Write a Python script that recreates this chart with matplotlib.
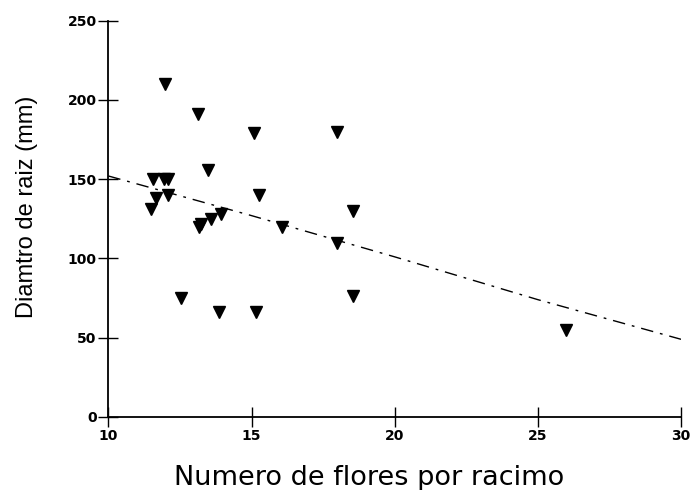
import matplotlib
matplotlib.use("Agg")
import matplotlib.pyplot as plt

# Observed plants: flowers per raceme vs. root diameter (mm)
flores = [11.98, 13.14, 15.09, 18.0, 13.49, 11.55, 11.95, 12.1, 11.65, 12.1,
          11.5, 13.15, 13.25, 13.6, 13.95, 15.25, 16.05, 18.0, 18.55, 12.55,
          13.85, 15.15, 18.55, 26.0]
diametro = [210, 191, 179, 180, 156, 150, 150, 150, 138, 140,
            131, 120, 122, 125, 128, 140, 120, 110, 130, 75,
            66, 66, 76, 55]

# Fitted trend curve
trend_x = [10, 15, 20, 25, 30]
trend_y = [152, 127, 101, 74, 49]

x_ticks = [10, 15, 20, 25, 30]
y_ticks = [0, 50, 100, 150, 200, 250]

fig = plt.figure(figsize=(6.9, 4.9), dpi=100)
ax = fig.add_axes([0.157, 0.149, 0.830, 0.809])

ax.plot(trend_x, trend_y, color="black", linewidth=1.0,
        dashes=(9, 5, 2, 5))
ax.plot(flores, diametro, linestyle="none", marker="v", markersize=8.5,
        color="black")

ax.set_xlim(10, 30)
ax.set_ylim(0, 250)
ax.set_xticks(x_ticks)
ax.set_yticks(y_ticks)

for side in ("top", "right"):
    ax.spines[side].set_visible(False)
for side in ("left", "bottom"):
    ax.spines[side].set_linewidth(1.3)

ax.tick_params(axis="both", direction="inout", length=15, width=1.0,
               labelsize=10, pad=1)
for lbl in ax.get_xticklabels() + ax.get_yticklabels():
    lbl.set_fontweight("bold")
    lbl.set_family(["DejaVu Sans"])

ax.set_xlabel("Numero de flores por racimo", fontsize=19.5,
              family=["DejaVu Sans"], va="baseline")
ax.xaxis.set_label_coords(0.455, -0.172)

ax.set_ylabel("Diamtro de raiz (mm)", fontsize=17,
              family=["Liberation Sans", "DejaVu Sans"], va="baseline")
ax.yaxis.set_label_coords(-0.131, 0.53)

fig.savefig("out.png", dpi=100, facecolor="white")
